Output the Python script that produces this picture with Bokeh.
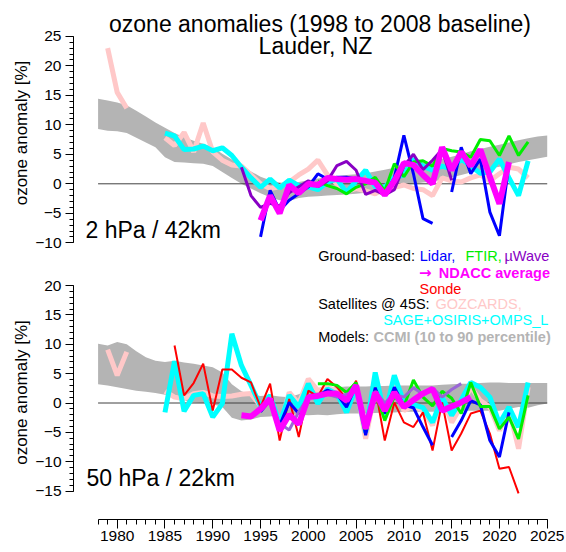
from bokeh.plotting import figure
from bokeh.models import Range1d, SingleIntervalTicker, Label
from bokeh.layouts import column
from bokeh.embed import file_html
from bokeh.resources import INLINE

nan = float("nan")

# ---------------- data ----------------
band_years = list(range(1978, 2026))
ccmi_2hpa_p90 = [14.4, 14.1, 13.8, 13.3, 12.4, 11.4, 10.4, 9.5, 8.6, 7.9,
                 7.3, 6.8, 6.2, 5.1, 4.1, 3.0, 2.1, 1.2, 0.6, 0.2,
                 0.1, 0.3, 0.6, 0.9, 1.1, 1.3, 1.5, 1.6, 1.8, 2.1,
                 2.4, 2.7, 3.0, 3.3, 3.6, 3.8, 4.2, 4.6, 5.0, 5.5,
                 5.9, 6.3, 6.6, 7.0, 7.4, 7.7, 8.0, 8.2]
ccmi_2hpa_p10 = [9.3, 9.0, 8.9, 8.6, 7.8, 7.0, 6.2, 4.5, 3.7, 3.6,
                 3.5, 3.4, 3.0, 2.0, 1.0, 0.0, -0.8, -1.6, -2.3, -2.8,
                 -2.9, -2.4, -2.2, -2.1, -2.0, -1.9, -1.8, -1.7, -1.5, -1.1,
                 -0.8, -0.6, -0.3, 0.0, 0.2, 0.4, 0.7, 1.1, 1.5, 1.9,
                 2.3, 2.6, 2.9, 3.3, 3.7, 4.0, 4.3, 4.6]
ccmi_50hpa_p90 = [10.1, 9.8, 10.4, 10.0, 8.8, 7.8, 7.2, 7.0, 7.2, 6.9,
                  6.7, 6.4, 6.1, 5.2, 3.2, 2.0, 1.4, 1.2, 1.3, 1.1,
                  1.0, 1.5, 2.2, 2.5, 2.6, 2.7, 2.8, 2.8, 2.8, 2.9,
                  2.9, 3.0, 3.0, 3.0, 3.0, 3.0, 3.1, 3.2, 3.3, 3.3,
                  3.4, 3.5, 3.5, 3.4, 3.4, 3.4, 3.4, 3.4]
ccmi_50hpa_p10 = [3.2, 3.0, 2.7, 2.4, 2.1, 1.9, 1.7, 1.4, 0.8, 0.4,
                  0.1, 0.0, -0.2, -0.7, -2.5, -3.0, -2.8, -2.4, -2.3, -2.1,
                  -1.9, -2.0, -2.1, -2.0, -2.1, -1.9, -1.8, -1.8, -1.8, -1.7,
                  -1.6, -1.6, -1.5, -1.5, -1.5, -1.5, -1.4, -1.4, -1.3, -1.3,
                  -1.3, -1.3, -1.3, -1.0, -0.7, -0.8, -0.4, -0.1]

gozcards_years = list(range(1979, 2024))
gozcards_2hpa = [23.0, 15.5, 12.8, nan, nan, nan, 7.8, 6.5, 8.7, 5.4,
                 10.3, 5.4, 4.0, 3.2, 3.0, 1.5, 0.0, -0.8, -0.5, 0.3,
                 1.5, 2.5, 4.0, 1.5, 0.0, -1.3, -0.8, -1.2, -1.7, -0.8,
                 -0.6, -0.2, -0.8, -1.0, -2.0, 1.0, 0.5, 0.3, 1.0, 1.5,
                 0.5, 1.7, 2.8, 2.5, 1.0]
gozcards_50hpa = [9.1, 4.7, 8.7, nan, nan, nan, 2.0, 1.0, 0.7, 1.6,
                  1.8, 1.2, 1.1, 1.2, 1.5, 1.6, -0.5, 0.9, -4.1, 1.8,
                  -0.1, 4.1, 2.1, 2.7, 2.0, 1.0, 3.3, -6.1, 2.3, -2.4,
                  3.5, -1.3, -0.5, -1.3, -3.8, 1.0, -3.3, -0.5, 2.7, 0.4,
                  -0.7, -4.7, -1.0, -7.8, 2.7]

sage_years = list(range(1985, 2024))
sage_2hpa = [8.6, 8.1, 5.8, 5.9, 6.4, 5.6, 6.1, 4.8, 2.8, 1.0,
             -0.6, 0.8, -0.7, 0.6, -0.3, -0.5, -1.0, 0.3, 0.8, -1.5,
             0.5, 2.3, -0.5, -0.6, 1.1, 1.5, 4.2, 3.0, 2.3, 3.0,
             2.5, 4.2, 3.0, 1.8, 2.0, 4.2, 1.0, -2.0, 3.9]
sage_50hpa = [-1.6, 7.1, -1.4, 1.3, 1.6, -2.4, -0.1, 11.8, 6.4, 3.0,
              -0.5, 1.3, -3.5, 1.3, -0.7, 3.3, -0.1, 2.4, 1.5, -1.6,
              2.7, -5.0, 5.2, -2.1, 4.7, 0.1, -0.3, -0.8, -3.3, 1.0,
              -2.1, 0.5, 3.5, 2.7, 1.0, -3.5, -0.7, -4.1, 3.5]

lidar_years = list(range(1995, 2022))
lidar_2hpa = [-9.0, -1.1, -4.5, -2.8, -1.7, -0.5, 1.7, 0.8, 1.1, 1.1,
              0.8, 0.5, 0.6, -1.7, 1.0, 8.2, 1.7, -5.9, -6.7, nan,
              -1.4, 6.2, 1.7, 4.2, -4.8, -8.8, 3.5]
lidar_50hpa = [-1.5, 0.5, -3.8, 0.1, -1.8, 1.0, 1.2, 2.2, 1.5, -0.7,
               3.0, -5.5, 2.6, -1.8, 2.7, -0.4, -0.8, -4.1, -7.2, nan,
               -5.8, -3.0, 0.4, -0.3, -6.4, -9.2, -1.6]

ftir_years = list(range(2001, 2024))
ftir_2hpa = [0.5, -0.3, -0.8, -1.7, -0.6, 0.0, 1.1, -1.2, 3.4, 1.2,
             3.7, 3.9, 3.0, 6.0, 5.6, 5.4, 4.5, 7.5, 7.3, 4.8,
             8.1, 4.8, 7.1]
ftir_50hpa = [3.3, 3.3, 3.0, 1.8, 3.5, -4.5, 2.0, -3.0, 1.1, -0.6,
              3.9, 1.0, -0.5, 2.0, 0.8, -1.8, 3.5, -0.6, -0.6, -4.4,
              -2.4, -6.1, 1.3]

mwave_2hpa_years = list(range(1993, 2016))
mwave_2hpa = [2.8, -2.0, -4.0, -3.3, -3.8, -1.5, -0.5, 0.5, -0.5, 0.5,
              3.1, 3.8, 2.3, -1.8, -1.1, -1.9, -1.0, 3.0, 5.0, 2.4,
              4.0, 5.8, 0.6]
mwave_50hpa_years = list(range(1997, 2017))
mwave_50hpa = [-3.5, -4.6, -1.5, 1.0, 1.5, 1.5, 1.0, 1.5, 2.0, -3.0,
               2.0, 0.0, 1.5, 1.0, 2.6, 1.5, 2.6, 1.0, 2.3, 3.3]

ndacc_2hpa_years = list(range(1995, 2022))
ndacc_2hpa = [-6.2, -2.0, -5.0, -0.2, -1.6, 0.0, -0.2, 1.0, 0.8, 0.7,
              0.8, 0.5, 0.2, -1.9, 0.5, 3.5, 3.2, 1.5, 0.0, 6.2,
              2.3, 5.4, 3.0, 5.8, 1.2, -3.4, 3.7]
ndacc_50hpa_years = list(range(1993, 2018))
ndacc_50hpa = [-2.1, -2.3, -1.0, 0.7, -4.7, -2.0, -3.6, 1.0, 1.2, 1.6,
               1.6, 0.4, 3.0, -4.4, 1.8, -1.3, 1.8, -0.7, 0.5, 1.6,
               2.4, -1.3, -0.6, 0.1, 1.0]

sonde_years = list(range(1986, 2023))
sonde_50hpa = [9.8, 1.3, 3.4, 6.7, -1.3, 5.7, 5.7, 4.3, 3.5, -0.7,
               3.3, -6.4, 0.7, -5.8, 2.1, 1.1, 4.1, 2.7, 0.7, 3.8,
               -5.2, 2.6, -6.4, 0.1, -3.3, -4.1, -1.6, -8.1, 0.1, -8.1,
               -5.2, -1.8, -1.3, -5.2, -11.2, -10.9, -15.4]

year_ticks_interval = 5
value_ticks_interval = 5

# ---------------- style ----------------
FONT = "Liberation Sans"
C_LIDAR = "#0000ff"
C_FTIR = "#00ee00"
C_MWAVE = "#8800c4"
C_MWAVE50 = "#9a66d6"
C_NDACC = "#ff00ff"
C_SONDE = "#ff0000"
C_GOZ = "#ffc8c8"
C_SAGE = "#00ffff"
C_CCMI = "#b4b4b4"

# geometry (page pixels)
W = 566
H_TOP = 265
H_BOT = 287
LEFT = 73
BOT_BORDER = 33
X0, XS = 116.7, 9.556          # x of 1980, px per year
TY0, TS = 183.3, 5.9           # top panel: y of 0, px per %
BY0, BS = 402.5 - H_TOP, 5.87  # bottom panel (within its canvas)
BASE_SHIFT = 0.37              # rendered text sits this many em below the requested y


def px2yr(px):
    return 1980 + (px - X0) / XS


def py2top(py):
    return (TY0 - py) / TS


def py2bot(py):
    return (BY0 - (py - H_TOP)) / BS


x_range = Range1d(px2yr(LEFT), px2yr(W))


def make_fig(height, yr, border_bottom, x_axis):
    p = figure(width=W, height=height, x_range=x_range, y_range=yr,
               output_backend="svg", toolbar_location=None,
               x_axis_location=("below" if x_axis else None),
               min_border_left=LEFT, min_border_right=0, min_border_top=0,
               min_border_bottom=border_bottom)
    p.outline_line_color = None
    p.xgrid.visible = False
    p.ygrid.visible = False
    p.background_fill_color = "white"
    p.border_fill_color = "white"
    return p


def style_yaxis(ax, bounds):
    ax.ticker = SingleIntervalTicker(interval=value_ticks_interval, num_minor_ticks=5)
    ax.bounds = bounds
    ax.axis_line_color = "black"
    ax.major_tick_line_color = "black"
    ax.minor_tick_line_color = "black"
    ax.major_tick_in = 0
    ax.major_tick_out = 8
    ax.minor_tick_in = 0
    ax.minor_tick_out = 4
    ax.major_label_standoff = 4
    ax.major_label_text_font = FONT
    ax.major_label_text_font_size = "15.5px"
    ax.major_label_text_color = "black"
    ax.axis_label = "ozone anomaly [%]"
    ax.axis_label_text_font = FONT
    ax.axis_label_text_font_size = "17px"
    ax.axis_label_text_font_style = "normal"
    ax.axis_label_text_color = "black"
    ax.axis_label_standoff = 1


def text(p, conv, x_px, y_px, s, color="black", size=14.5, bold=False,
         align="left", font=FONT):
    y = conv(y_px - BASE_SHIFT * size)
    p.add_layout(Label(x=px2yr(x_px), y=y, text=s, text_color=color,
                       text_font=font, text_font_size=f"{size}px",
                       text_font_style=("bold" if bold else "normal"),
                       text_align=align, text_baseline="alphabetic"))


# ---------------- top panel (2 hPa) ----------------
p1 = make_fig(H_TOP, Range1d(py2top(H_TOP), py2top(0)), 0, False)
style_yaxis(p1.yaxis[0], (-10, 25))

p1.varea(x=band_years, y1=ccmi_2hpa_p10, y2=ccmi_2hpa_p90, fill_color=C_CCMI)
p1.line([band_years[0], band_years[-1]], [0, 0], line_color="#404040", line_width=1)
p1.line(gozcards_years, gozcards_2hpa, line_color=C_GOZ, line_width=5)
p1.line(sage_years, sage_2hpa, line_color=C_SAGE, line_width=5)
p1.line(lidar_years, lidar_2hpa, line_color=C_LIDAR, line_width=3)
p1.line(ftir_years, ftir_2hpa, line_color=C_FTIR, line_width=3)
p1.line(mwave_2hpa_years, mwave_2hpa, line_color=C_MWAVE, line_width=3)
p1.line(ndacc_2hpa_years, ndacc_2hpa, line_color=C_NDACC, line_width=6)

text(p1, py2top, 319.5, 32.5, "ozone anomalies (1998 to 2008 baseline)", size=23, align="center")
text(p1, py2top, 315, 54.5, "Lauder, NZ", size=23, align="center")
text(p1, py2top, 85, 238.5, "2 hPa / 42km", size=23)
text(p1, py2top, 317.7, 260.7, "Ground-based:")
text(p1, py2top, 419.3, 260.7, "Lidar,", C_LIDAR)
text(p1, py2top, 465, 260.7, "FTIR,", C_FTIR)
text(p1, py2top, 504, 260.7, "\u00b5Wave", C_MWAVE)

# ---------------- bottom panel (50 hPa) ----------------
p2 = make_fig(H_BOT, Range1d(py2bot(H_TOP + H_BOT - BOT_BORDER), py2bot(H_TOP)),
              BOT_BORDER, True)
style_yaxis(p2.yaxis[0], (-15, 20))
xa = p2.xaxis[0]
xa.ticker = SingleIntervalTicker(interval=year_ticks_interval, num_minor_ticks=5)
xa.bounds = (band_years[0], 2025)
xa.axis_line_color = "black"
xa.major_tick_line_color = "black"
xa.minor_tick_line_color = "black"
xa.major_tick_in = 0
xa.major_tick_out = 9
xa.minor_tick_in = 0
xa.minor_tick_out = 5
xa.major_label_standoff = 2
xa.major_label_text_font = FONT
xa.major_label_text_font_size = "15.5px"
xa.major_label_text_color = "black"

p2.varea(x=band_years, y1=ccmi_50hpa_p10, y2=ccmi_50hpa_p90, fill_color=C_CCMI)
p2.line([band_years[0], band_years[-1]], [0, 0], line_color="#404040", line_width=1)
p2.line(gozcards_years, gozcards_50hpa, line_color=C_GOZ, line_width=5)
p2.line(sage_years, sage_50hpa, line_color=C_SAGE, line_width=5)
p2.line(sonde_years, sonde_50hpa, line_color=C_SONDE, line_width=2)
p2.line(lidar_years, lidar_50hpa, line_color=C_LIDAR, line_width=3)
p2.line(ftir_years, ftir_50hpa, line_color=C_FTIR, line_width=3)
p2.line(mwave_50hpa_years, mwave_50hpa, line_color=C_MWAVE50, line_width=3)
p2.line(ndacc_50hpa_years, ndacc_50hpa, line_color=C_NDACC, line_width=6)

text(p2, py2bot, 86, 486, "50 hPa / 22km", size=23)
text(p2, py2bot, 418.5, 278.2, "\u2192", C_NDACC, size=15, bold=True, font="DejaVu Sans")
text(p2, py2bot, 438.3, 278.2, "NDACC average", C_NDACC, bold=True)
text(p2, py2bot, 419, 293.5, "Sonde", C_SONDE)
text(p2, py2bot, 317.7, 308.5, "Satellites @ 45S:")
text(p2, py2bot, 435, 308.5, "GOZCARDS,", C_GOZ)
text(p2, py2bot, 382.7, 325, "SAGE+OSIRIS+OMPS_L", C_SAGE)
text(p2, py2bot, 317.7, 341.7, "Models:")
text(p2, py2bot, 373, 341.7, "CCMI (10 to 90 percentile)", C_CCMI, bold=True)

layout = column(p1, p2, spacing=0)
open("out.html", "w").write(file_html(layout, INLINE))
